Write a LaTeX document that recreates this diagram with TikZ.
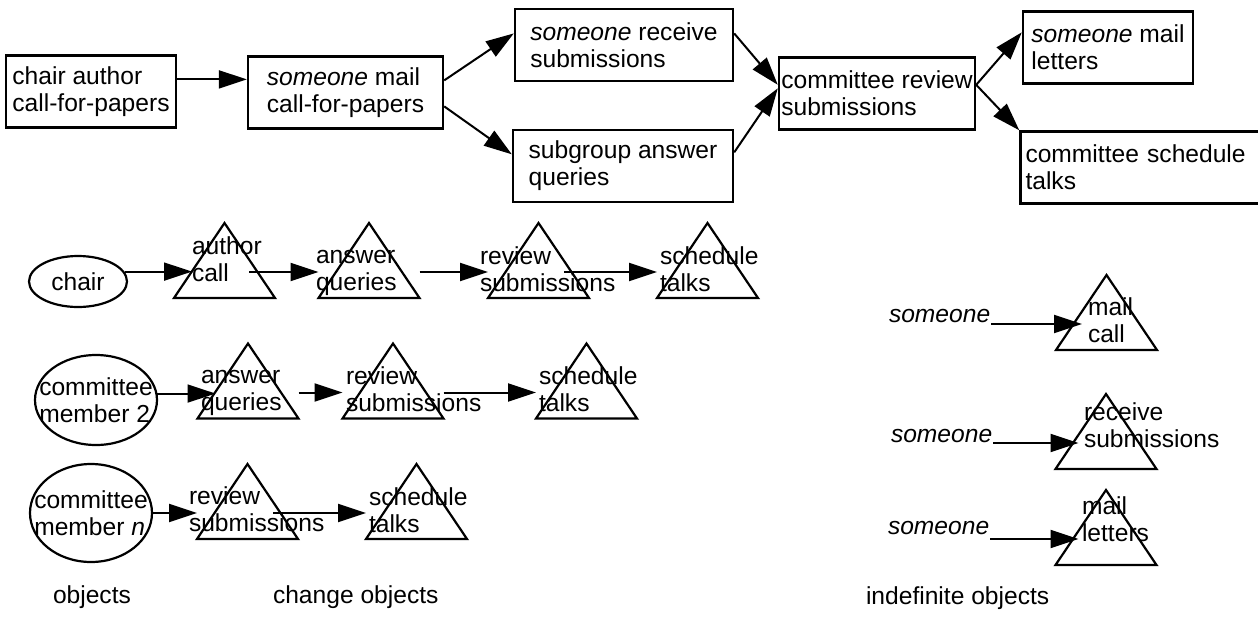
\documentclass[tikz,border=0pt]{standalone}
\usepackage{fontspec}
\setmainfont{Liberation Sans}
\usetikzlibrary{shapes.geometric,arrows.meta}

\begin{document}
\begin{tikzpicture}[x=0.5pt,y=-0.5pt,line width=1pt,
  font=\fontsize{12.3}{13.5}\selectfont,
  >={Triangle[length=14pt,width=9pt]},
  every node/.style={inner sep=0pt},
  box/.style={rectangle,draw,line width=1.2pt,align=left,minimum height=36pt},
  obj/.style={ellipse,draw,line width=1.1pt},
  tri/.style={rectangle,minimum width=49.5pt,minimum height=25pt},
  lab/.style={align=left,anchor=west,execute at begin node=\strut,execute at end node=\strut}]
\useasboundingbox (0,0) rectangle (1258,616);

% process
\node [box,minimum width=85pt] (cfp) at (91,91.5) {chair author\\call-for-papers};
\node [box,minimum width=97.5pt] (mail) at (345.5,92.5) {\textit{someone} mail\\call-for-papers};
\node [box,minimum width=109pt] (recv) at (624,45) {\textit{someone} receive\\submissions};
\node [box,minimum width=110pt] (answ) at (623,166) {subgroup answer\\queries};
\node [box,minimum width=98pt] (rev) at (877,93.5) {committee review\\submissions};
\node [box,minimum width=85pt] (letr) at (1108,47.5) {\textit{someone} mail\\letters};
\node [box,text width=117pt,inner xsep=2.5pt] (sched) at (1142.5,167.5) {committee schedule\\talks};
\draw (cfp.8)[->] -- (cfp.8 -| mail.west);
\draw (mail.7)[->] -- (recv.174);
\draw (mail.-8)[->] -- (answ.174);
\draw (recv.6)[->] -- (rev.175);
\draw (answ.7)[->] -- (rev.177);
\draw (rev.5)[->] -- (letr.170);
\draw (rev.5)[->] -- (sched.north west);

% objects
\node [obj,minimum width=49pt,minimum height=25.5pt] (chair) at (78,281.5) {chair};
\node [obj,minimum width=61pt,minimum height=45pt,label={[align=left]center:committee\\member 2}] (cm2) at (96,400) {};
\node [obj,minimum width=61pt,minimum height=49pt,label={[align=left]center:committee\\member \textit{n}}] (cmn) at (91,513) {};

% change objects
\node [tri] (t1) at (224.5,272) {};
\node [tri] (t2) at (369,272) {};
\node [tri] (t3) at (538.5,272) {};
\node [tri] (t4) at (707.5,272) {};
\node [tri] (t5) at (248,392.5) {};
\node [tri] (t6) at (393,392.5) {};
\node [tri] (t7) at (586.5,392.5) {};
\node [tri] (t8) at (247.5,513) {};
\node [tri] (t9) at (416.5,513) {};
\node [lab] (l1) at (191,263.6) {author\\call};
\node [lab] (l2) at (315,274.1) {answer\\queries};
\node [lab] (l3) at (479,273.6) {review\\submissions};
\node [lab] (l4) at (659,273.6) {schedule\\talks};
\node [lab] (l5) at (200,394) {answer\\queries};
\node [lab] (l6) at (345,393) {review\\submissions};
\node [lab] (l7) at (538,393.6) {schedule\\talks};
\node [lab] (l8) at (188,513.6) {review\\submissions};
\node [lab] (l9) at (368,514.6) {schedule\\talks};
\draw (chair.12)[->] -- ([xshift=9pt]chair.12 -| t1.west);
\draw ([xshift=-13pt]t1.east)[->] -- (t2.west);
\draw (t2.east)[->] -- (t3.west);
\draw ([xshift=-12.5pt]t3.east)[->] -- (t4.west);
\draw (cm2.6)[->] -- ([xshift=9pt]cm2.6 -| t5.west);
\draw (t5)[->] -- (t6);
\draw (t6)[->] -- (t7);
\draw (cmn)[->] -- (t8);
\draw ([xshift=-12.5pt]t8.east)[->] -- (t9.west);

% indefinite objects
\node [anchor=base west] (s1) at (888,322) {\textit{someone}};
\node [anchor=base west] (s2) at (890,442) {\textit{someone}};
\node [anchor=base west] (s3) at (887,534) {\textit{someone}};
\node [tri] (t10) at (1106.5,324) {};
\node [tri] (t11) at (1106,443) {};
\node [tri] (t12) at (1106,539) {};
\node [lab] (l10) at (1087,324.6) {mail\\call};
\node [lab] (l11) at (1083,429.6) {receive\\submissions};
\node [lab] (l12) at (1081,523.1) {mail\\letters};
\draw (s1.east |- t10)[->] -- ([xshift=13pt]t10.west);
\draw (s2.east |- t11)[->] -- ([xshift=11.5pt]t11.west);
\draw (s3.east |- t12)[->] -- ([xshift=11.5pt]t12.west);

\foreach \t in {t1,t2,t3,t4,t5,t6,t7,t8,t9,t10,t11,t12}
  \draw[line width=1.1pt] (\t.south west) -- ([yshift=11.5pt]\t.north) -- (\t.south east) -- cycle;

% captions
\node [anchor=base west] (objs) at (52,603) {objects};
\node [anchor=base west] (chg) at (272,603) {change objects};
\node [anchor=base west] (indef) at (865,604) {indefinite objects};
\end{tikzpicture}
\end{document}
